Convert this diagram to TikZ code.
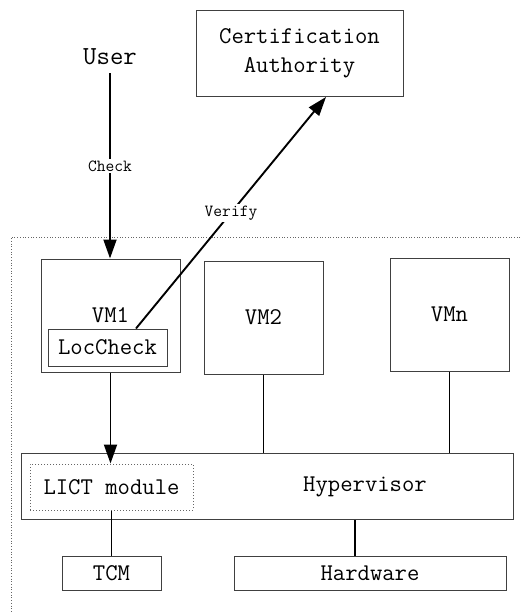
\documentclass[tikz,border=0pt]{standalone}
\usepackage{tikz}
\usetikzlibrary{arrows.meta}

\begin{document}
\begin{tikzpicture}[x=1pt, y=-1pt,
    box/.style={draw=black!75, line width=1pt, rectangle, font=\fontsize{24}{29}\selectfont\ttfamily},
    conn/.style={line width=1.9pt},
    arr/.style={conn, -{Triangle[length=19pt,width=13pt]}},
    lbl/.style={fill=white, inner sep=2pt, font=\fontsize{17}{20}\selectfont\ttfamily}]
    \useasboundingbox (0,0) rectangle (520,612);

    % platform border
    \draw [black!60, dotted, line width=0.7pt] (520,237) -| (11,612);

    \node [font=\fontsize{26}{30}\selectfont\ttfamily, inner sep=8pt] (user) at (110,57) {User};
    \node [box, minimum width=207, minimum height=86, align=center] (ca) at (299.5,53.5) {Certification\\Authority};

    \node [box, minimum width=139, minimum height=113] (vm1) at (110.5,315.5) {VM1};
    \node [box, minimum width=119, minimum height=37] (loc) at (107.5,347.5) {LocCheck};
    \node [box, minimum width=119, minimum height=113] (vm2) at (263.5,317.5) {VM2};
    \node [box, minimum width=119, minimum height=113] (vmn) at (449.5,314.5) {VMn};

    \node [box, minimum width=492, minimum height=66] (hyp) at (267,486) {};
    \node [font=\fontsize{24}{29}\selectfont\ttfamily] (hyptext) at (365,487) {Hypervisor};
    \node [box, dotted, draw=black!60, minimum width=163, minimum height=46] (lict) at (111.5,487) {LICT module};

    \node [box, minimum width=99, minimum height=34] (tcm) at (111.5,573) {TCM};
    \node [box, minimum width=272, minimum height=34] (hw) at (370,573) {Hardware};

    \draw [arr] (user.south) -- (user.south |- vm1.north) node [lbl, midway] {Check};
    \draw [arr] ([xshift=28.5]loc.north) -- ([xshift=26.5]ca.south) node [lbl, midway] {Verify};

    \draw [arr] (vm1.south) -- (vm1.south |- lict.north);
    \draw [conn] (vm2.south) -- (vm2.south |- hyp.north);
    \draw [conn] (vmn.south) -- (vmn.south |- hyp.north);
    \draw [conn] (lict.south) -- (tcm.north);
    \draw [conn] ([xshift=-15]hw.north) -- ([xshift=-15]hw.north |- hyp.south);
\end{tikzpicture}
\end{document}
